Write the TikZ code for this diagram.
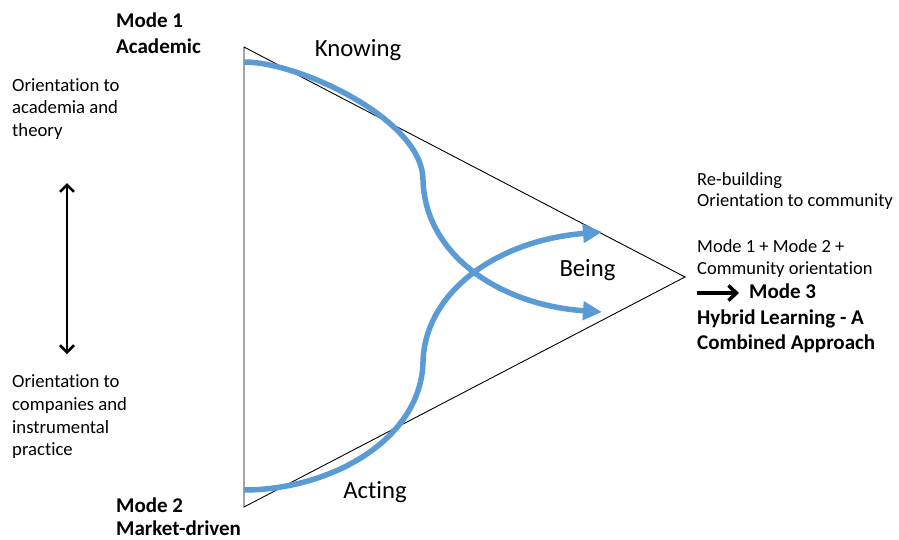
\documentclass[tikz,border=0pt]{standalone}
\usepackage{fontspec}
\setmainfont{Carlito}[Ligatures={NoCommon,NoRare}]
\usetikzlibrary{arrows.meta}
\definecolor{flowblue}{HTML}{5B9BD5}
\begin{document}
\begin{tikzpicture}[x=1pt,y=-1pt,
  txt/.style={anchor=base west, inner sep=0pt, font=\fontsize{18.7}{22.8}\selectfont},
  rtxt/.style={anchor=base west, inner sep=0pt, font=\fontsize{18.5}{22}\selectfont},
  boldtxt/.style={anchor=base west, inner sep=0pt, font=\fontsize{21}{25}\selectfont\bfseries},
  bigtxt/.style={anchor=base, inner sep=0pt, font=\fontsize{24.7}{30}\selectfont},
  flow/.style={draw=flowblue, line width=5.5pt, -{Triangle[length=19pt,width=18pt]}},
  blackarrow/.style={line width=3.5pt, -{Straight Barb[length=8pt,width=15pt]}},
  dblarrow/.style={line width=2.5pt, {Straight Barb[length=7pt,width=14pt]}-{Straight Barb[length=7pt,width=14pt]}},
]
\useasboundingbox (0,0) rectangle (899,539);
% triangle
\coordinate (T) at (244,47);
\coordinate (B) at (244,507);
\coordinate (R) at (685,277);
\draw[line width=0.9pt] (T) -- (R) -- (B) -- cycle;

% blue flows
\coordinate (ks) at (244,62);
\coordinate (km) at (423,180);
\coordinate (ke) at (602,312);
\coordinate (as) at (244,490);
\coordinate (am) at (423,362);
\coordinate (ae) at (602,232);
\draw[flow] (ks) .. controls (300,62) and (423,120) .. (km)
  .. controls (425,255) and (500,305) .. (ke);
\draw[flow] (as) .. controls (330,490) and (421,440) .. (am)
  .. controls (425,290) and (500,240) .. (ae);

% labels in the triangle
\node[bigtxt] (knowing) at (358,56.7) {Knowing};
\node[bigtxt] (acting) at (375,498.3) {Acting};
\node[bigtxt] (being) at (587.5,276.7) {Being};

% left side
\node[boldtxt] (m1a) at (116,27) {Mode 1};
\node[boldtxt] (m1b) at (116,53) {Academic};
\node[txt] (o1a) at (12,91) {Orientation to};
\node[txt] (o1b) at (12,113.7) {academia and};
\node[txt] (o1c) at (12,136.4) {theory};
\coordinate (dtop) at (67,183);
\coordinate (dbot) at (67,354);
\draw[dblarrow] (dtop) -- (dbot);
\node[txt] (o2a) at (12,387) {Orientation to};
\node[txt] (o2b) at (12,410) {companies and};
\node[txt] (o2c) at (12,433) {instrumental};
\node[txt] (o2d) at (12,455.6) {practice};
\node[boldtxt] (m2a) at (116,512.5) {Mode 2};
\node[boldtxt] (m2b) at (116,535.5) {Market-driven};

% right side
\node[rtxt] (r1) at (697,185) {Re-building};
\node[rtxt] (r2) at (697,206.5) {Orientation to community};
\node[rtxt] (r3) at (697,252.5) {Mode 1 + Mode 2 +};
\node[rtxt] (r4) at (697,274) {Community orientation};
\coordinate (m3s) at (697,293);
\node[boldtxt] (m3) at (749,298.3) {Mode 3};
\coordinate (m3e) at (739,293);
\draw[blackarrow] (m3s) -- (m3e);
\node[boldtxt] (h1) at (697,324) {Hybrid Learning - A};
\node[boldtxt] (h2) at (697,349) {Combined Approach};
\end{tikzpicture}
\end{document}
